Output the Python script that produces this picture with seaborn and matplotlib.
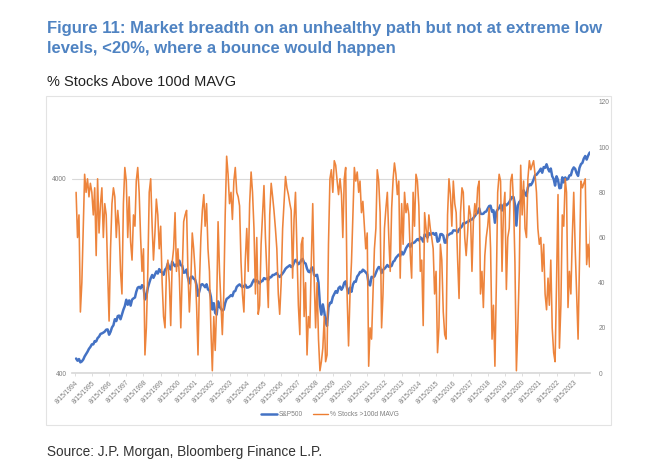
import numpy as np
import pandas as pd
import matplotlib.pyplot as plt
import matplotlib.patches as mpatches
from matplotlib.lines import Line2D
import seaborn as sns

# S&P500 monthly levels, Aug 1994 .. Jul 2024
spx_1994 = [475, 463, 472, 454, 459]
spx_1995 = [470, 487, 501, 515, 533, 545, 562, 562, 584, 582, 605, 616]
spx_1996 = [636, 640, 646, 654, 669, 671, 630, 652, 687, 705, 757, 741]
spx_1997 = [786, 791, 757, 801, 848, 885, 954, 899, 947, 890, 955, 970]
spx_1998 = [980, 1049, 1102, 1112, 1091, 1134, 1121, 957, 990, 1099, 1164, 1229]
spx_1999 = [1280, 1238, 1286, 1335, 1302, 1373, 1329, 1320, 1283, 1363, 1389, 1469]
spx_2000 = [1394, 1366, 1499, 1452, 1421, 1455, 1431, 1518, 1437, 1429, 1315, 1320]
spx_2001 = [1366, 1240, 1160, 1249, 1256, 1224, 1211, 1134, 1000, 1060, 1139, 1148]
spx_2002 = [1130, 1107, 1147, 1077, 1067, 990, 850, 916, 815, 800, 936, 880]
spx_2003 = [856, 841, 848, 917, 964, 975, 990, 1008, 996, 1051, 1058, 1112]
spx_2004 = [1131, 1145, 1126, 1107, 1121, 1141, 1102, 1104, 1115, 1130, 1174, 1212]
spx_2005 = [1181, 1204, 1181, 1157, 1192, 1191, 1234, 1220, 1229, 1207, 1249, 1248]
spx_2006 = [1280, 1281, 1295, 1311, 1270, 1250, 1277, 1304, 1336, 1378, 1401, 1418]
spx_2007 = [1438, 1407, 1421, 1482, 1531, 1503, 1455, 1474, 1527, 1549, 1481, 1468]
spx_2008 = [1379, 1331, 1323, 1386, 1400, 1280, 1267, 1283, 1166, 900, 800, 903]
spx_2009 = [826, 735, 700, 873, 919, 919, 987, 1021, 1057, 1036, 1096, 1115]
spx_2010 = [1074, 1104, 1169, 1187, 1089, 1031, 1102, 1049, 1141, 1183, 1181, 1258]
spx_2011 = [1286, 1327, 1326, 1364, 1345, 1321, 1292, 1150, 1131, 1253, 1247, 1258]
spx_2012 = [1312, 1366, 1408, 1398, 1310, 1362, 1379, 1407, 1441, 1412, 1416, 1426]
spx_2013 = [1498, 1515, 1569, 1598, 1631, 1606, 1686, 1633, 1682, 1757, 1806, 1848]
spx_2014 = [1783, 1859, 1872, 1884, 1924, 1960, 1931, 2003, 1972, 1900, 2068, 2059]
spx_2015 = [1995, 2105, 2068, 2086, 2107, 2063, 2104, 1900, 1920, 2079, 2080, 2044]
spx_2016 = [1880, 1880, 2060, 2065, 2097, 2099, 2174, 2171, 2168, 2126, 2199, 2239]
spx_2017 = [2279, 2364, 2363, 2384, 2412, 2423, 2470, 2472, 2519, 2575, 2648, 2674]
spx_2018 = [2824, 2650, 2641, 2648, 2705, 2718, 2816, 2902, 2914, 2712, 2760, 2380]
spx_2019 = [2704, 2784, 2834, 2946, 2752, 2942, 2980, 2926, 2977, 3038, 3141, 3231]
spx_2020 = [3226, 2954, 2300, 2912, 3044, 3100, 3271, 3500, 3363, 3270, 3622, 3756]
spx_2021 = [3714, 3811, 3973, 4181, 4204, 4298, 4395, 4523, 4308, 4605, 4567, 4766]
spx_2022 = [4516, 4374, 4530, 4132, 4000, 3700, 4130, 3955, 3586, 3600, 4080, 3840]
spx_2023 = [4077, 3970, 4000, 4169, 4180, 4450, 4589, 4508, 4288, 4150, 4568, 4770]
spx_2024 = [4846, 5096, 5254, 5036, 5278, 5460, 5522]

# % of stocks above their 100-day moving average, same months
pct_1994 = [80, 60, 70, 27, 40]
pct_1995 = [65, 88, 80, 86, 78, 84, 80, 70, 82, 52, 86, 62]
pct_1996 = [75, 82, 60, 75, 70, 45, 23, 55, 75, 82, 78, 60]
pct_1997 = [72, 65, 45, 35, 75, 91, 85, 60, 78, 58, 50, 70]
pct_1998 = [65, 85, 91, 80, 60, 45, 55, 8, 20, 45, 80, 86]
pct_1999 = [65, 50, 62, 77, 70, 55, 65, 40, 25, 20, 45, 50]
pct_2000 = [40, 21, 49, 55, 71, 45, 55, 42, 20, 45, 67, 70]
pct_2001 = [72, 45, 27, 40, 62, 55, 45, 30, 8, 40, 60, 72]
pct_2002 = [79, 65, 75, 55, 45, 20, 1, 25, 10, 30, 67, 45]
pct_2003 = [30, 17, 35, 70, 96, 88, 75, 80, 68, 85, 91, 80]
pct_2004 = [78, 74, 49, 35, 27, 50, 64, 45, 75, 89, 80, 64]
pct_2005 = [35, 60, 26, 30, 57, 70, 83, 60, 45, 29, 70, 84]
pct_2006 = [78, 72, 64, 55, 35, 26, 40, 64, 75, 87, 82, 79]
pct_2007 = [75, 72, 42, 68, 80, 55, 30, 17, 57, 60, 25, 40]
pct_2008 = [8, 25, 20, 49, 75, 42, 20, 40, 15, 1, 5, 11]
pct_2009 = [25, 5, 8, 57, 86, 90, 80, 94, 92, 85, 79, 86]
pct_2010 = [79, 60, 86, 91, 34, 12, 35, 49, 70, 91, 85, 89]
pct_2011 = [80, 85, 71, 76, 65, 55, 62, 3, 20, 15, 34, 55]
pct_2012 = [64, 90, 85, 71, 20, 35, 64, 73, 80, 60, 45, 73]
pct_2013 = [86, 93, 88, 79, 85, 42, 75, 57, 80, 71, 75, 70]
pct_2014 = [52, 42, 80, 65, 88, 85, 74, 45, 50, 21, 71, 64]
pct_2015 = [58, 70, 64, 60, 55, 35, 45, 9, 20, 57, 50, 27]
pct_2016 = [17, 15, 70, 86, 79, 65, 85, 75, 71, 50, 33, 71]
pct_2017 = [82, 80, 60, 52, 62, 74, 70, 45, 67, 75, 70, 82]
pct_2018 = [85, 35, 45, 29, 52, 60, 65, 73, 55, 15, 30, 3]
pct_2019 = [40, 80, 88, 85, 45, 72, 80, 37, 60, 64, 85, 88]
pct_2020 = [75, 49, 1, 20, 45, 92, 70, 85, 64, 60, 86, 94]
pct_2021 = [90, 92, 94, 88, 80, 64, 57, 60, 45, 57, 35, 28]
pct_2022 = [42, 30, 50, 20, 9, 5, 40, 79, 11, 30, 70, 65]
pct_2023 = [86, 80, 29, 45, 35, 60, 80, 55, 35, 15, 50, 85]
pct_2024 = [82, 84, 86, 48, 57, 47, 72]

spx = (spx_1994 + spx_1995 + spx_1996 + spx_1997 + spx_1998 + spx_1999 + spx_2000
       + spx_2001 + spx_2002 + spx_2003 + spx_2004 + spx_2005 + spx_2006 + spx_2007
       + spx_2008 + spx_2009 + spx_2010 + spx_2011 + spx_2012 + spx_2013 + spx_2014
       + spx_2015 + spx_2016 + spx_2017 + spx_2018 + spx_2019 + spx_2020 + spx_2021
       + spx_2022 + spx_2023 + spx_2024)
pct = (pct_1994 + pct_1995 + pct_1996 + pct_1997 + pct_1998 + pct_1999 + pct_2000
       + pct_2001 + pct_2002 + pct_2003 + pct_2004 + pct_2005 + pct_2006 + pct_2007
       + pct_2008 + pct_2009 + pct_2010 + pct_2011 + pct_2012 + pct_2013 + pct_2014
       + pct_2015 + pct_2016 + pct_2017 + pct_2018 + pct_2019 + pct_2020 + pct_2021
       + pct_2022 + pct_2023 + pct_2024)

tick_years = list(range(1994, 2024))

df = pd.DataFrame({
    "date": pd.date_range("1994-08-15", periods=len(spx), freq="MS") + pd.Timedelta(days=14),
    "spx": spx,
    "pct": pct,
})

sns.set_theme(style="white")
plt.rcParams["font.family"] = ["Liberation Sans", "DejaVu Sans"]

BLUE = "#4472C4"
ORANGE = "#ED7D31"
GREY_TXT = "#7f7f7f"

fig = plt.figure(figsize=(6.51, 4.67), dpi=100)
ax = fig.add_axes([72 / 651, 1 - 373 / 467, (590 - 72) / 651, (373 - 102) / 467])

sns.lineplot(data=df, x="date", y="spx", ax=ax, color=BLUE, lw=1.8)
ax.set_yscale("log")
ax.set_ylim(400, 400 * 10 ** (271 / 194))
ax.set_yticks([400, 4000])
ax.set_yticklabels(["400", "4000"])
ax.yaxis.set_minor_locator(plt.NullLocator())
ax.grid(axis="y", which="major", color="#d9d9d9", lw=0.8)
ax.set_xlim(pd.Timestamp("1994-06-20"), pd.Timestamp("2024-07-25"))

ax2 = ax.twinx()
sns.lineplot(data=df, x="date", y="pct", ax=ax2, color=ORANGE, lw=1.15, alpha=0.95)
ax2.set_ylim(0, 120)
ax2.set_yticks(range(0, 121, 20))

ticks = [pd.Timestamp(f"{y}-08-15") for y in tick_years]
ax.set_xticks(ticks)
ax.set_xticklabels([f"8/15/{y}" for y in tick_years], rotation=45, ha="right",
                   rotation_mode="anchor")

for a in (ax, ax2):
    a.set_xlabel("")
    a.set_ylabel("")
    for s in a.spines.values():
        s.set_visible(False)
ax.spines["bottom"].set_visible(True)
ax.spines["bottom"].set_color("#d9d9d9")
ax.tick_params(axis="x", labelsize=4.8, colors="#d9d9d9", labelcolor=GREY_TXT,
               length=2.5, width=0.6, pad=2, bottom=True)
ax.tick_params(axis="y", labelsize=4.8, labelcolor=GREY_TXT, length=0, pad=4)
ax2.tick_params(axis="y", labelsize=4.8, labelcolor=GREY_TXT, length=0, pad=6)

# chart frame
fig.patches.append(mpatches.Rectangle((46 / 651, 1 - 425 / 467), 565 / 651, 329 / 467,
                                      transform=fig.transFigure, fill=False,
                                      ec="#e3e3e3", lw=0.8))

handles = [Line2D([0], [0], color=BLUE, lw=1.8), Line2D([0], [0], color=ORANGE, lw=1.0)]
fig.legend(handles, ["S&P500", "% Stocks >100d MAVG"], loc="center",
           bbox_to_anchor=(330 / 651, 1 - 415 / 467), ncol=2, frameon=False,
           fontsize=4.8, handlelength=2.3, columnspacing=1.5, handletextpad=0.3,
           labelcolor=GREY_TXT)

title_color = "#4F83C2"
fig.text(47 / 651, 1 - 33.3 / 467, "Figure 11: Market breadth on an unhealthy path but not at extreme low",
         color=title_color, fontsize=12, fontweight="bold", va="baseline")
fig.text(47 / 651, 1 - 53 / 467, "levels, <20%, where a bounce would happen",
         color=title_color, fontsize=12, fontweight="bold", va="baseline")
fig.text(47 / 651, 1 - 86 / 467, "% Stocks Above 100d MAVG", color="#222222",
         fontsize=10.5, va="baseline")
fig.text(47 / 651, 1 - 456 / 467, "Source: J.P. Morgan, Bloomberg Finance L.P.",
         color="#333333", fontsize=9.8, va="baseline")

fig.savefig("out.png", dpi=100)
